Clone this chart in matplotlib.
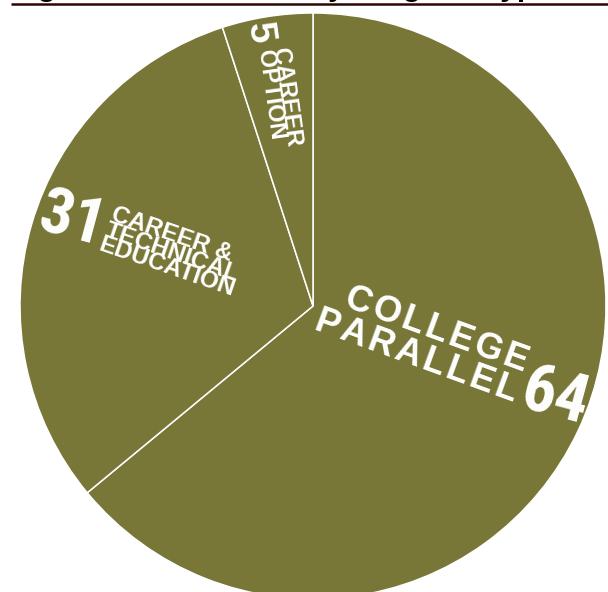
import matplotlib
matplotlib.use('Agg')
import matplotlib.pyplot as plt

W, H = 608, 592

# data
shares = [64, 31, 5]
programs = ['COLLEGE\nPARALLEL', 'CAREER &\nTECHNICAL\nEDUCATION', 'CAREER\nOPTION']
title = 'Figure 2: Enrollment by Program Type'

OLIVE = '#787738'
SANS = ['Liberation Sans', 'DejaVu Sans']
NARROW = ['Roboto Condensed', 'Liberation Sans', 'DejaVu Sans']

# label layout, image pixel coords (y down): number anchor, line anchors
layout = [
    dict(num=(518, 408), num_rot=-15, num_size=48, num_font=NARROW,
         lines=[(343, 306), (313, 329)], rot=-20, size=26, spaced=True),
    dict(num=(36, 230), num_rot=-15, num_size=47, num_font=NARROW,
         lines=[(110, 220), (104, 236), (97, 250)], rot=-19, size=17.5, spaced=False),
    dict(num=(248, 24), num_rot=-82, num_size=27, num_font=SANS,
         lines=[(273, 49), (258, 51)], rot=-82, size=17, spaced=False),
]


def px(x, y):
    return x, H - y


def spaced(s):
    return '\u200a'.join(s)


fig = plt.figure(figsize=(W / 100, H / 100), dpi=100)
ax = fig.add_axes([0, 0, 1, 1])
ax.pie(shares, colors=[OLIVE] * len(shares), startangle=90, counterclock=False,
       center=px(313, 306), radius=293,
       wedgeprops=dict(edgecolor='white', linewidth=1.1))
ax.set_xlim(0, W)
ax.set_ylim(0, H)
ax.axis('off')

txt = dict(color='white', fontweight='bold', ha='left', va='baseline',
           rotation_mode='anchor')
for share, name, lay in zip(shares, programs, layout):
    ax.text(*px(*lay['num']), str(share), rotation=lay['num_rot'],
            fontsize=lay['num_size'], family=lay['num_font'], **txt)
    for line, xy in zip(name.split('\n'), lay['lines']):
        s = spaced(line) if lay['spaced'] else line
        ax.text(*px(*xy), s, rotation=lay['rot'], fontsize=lay['size'],
                family=SANS, **txt)

# cropped title and rule
ax.text(*px(11, -4), title, fontsize=21.5, fontweight='bold', family=SANS,
        ha='left', va='baseline', color='black', clip_on=False)
ax.plot([px(11, 3.5)[0], W], [px(11, 3.5)[1]] * 2, color='#2e0505',
        linewidth=1.8, solid_capstyle='butt', clip_on=False)

fig.savefig('out.png', dpi=100)
